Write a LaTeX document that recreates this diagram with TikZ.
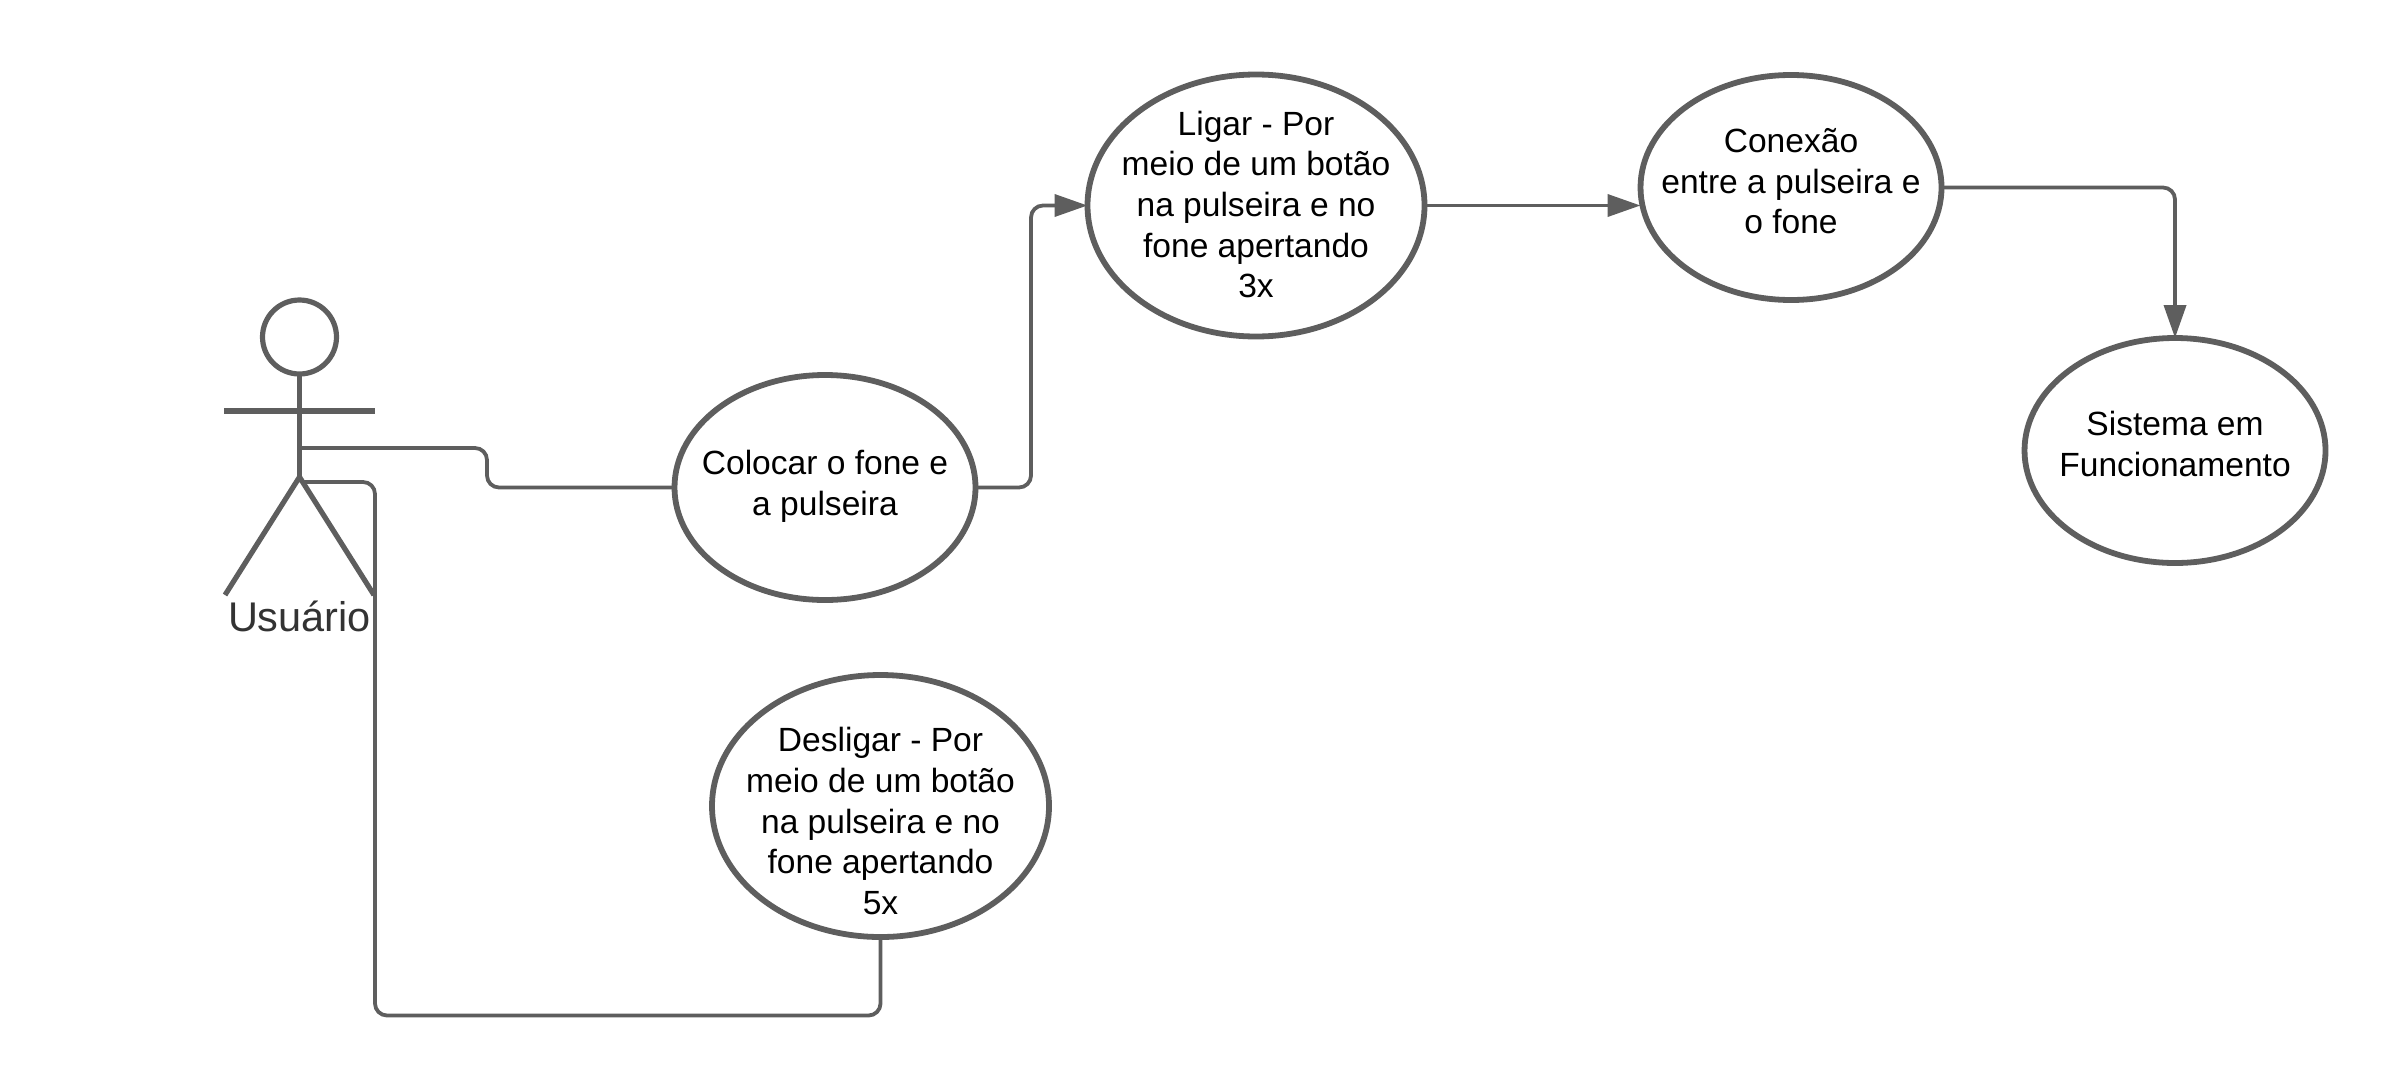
\documentclass[tikz,border=0pt]{standalone}
\usepackage{fontspec}
\setmainfont{Liberation Sans}
\usetikzlibrary{shapes.geometric, arrows.meta, positioning, calc}
\definecolor{traco}{HTML}{5E5E5E}
\definecolor{rotulo}{HTML}{333333}

\begin{document}
\begin{tikzpicture}[>={Triangle[length=.33cm,width=.22cm]}, font=\fontsize{9.55}{11.55}\selectfont,
    caso/.style={draw=traco, line width=.058cm, ellipse, inner sep=0pt, outer sep=0pt},
    casop/.style={caso, minimum width=3.01cm, minimum height=2.25cm},
    casog/.style={caso, minimum width=3.37cm, minimum height=2.62cm},
    texto/.style={align=center, inner sep=0pt},
    ator/.style={draw=traco, line width=.052cm},
    ligacao/.style={draw=traco, line width=.038cm, rounded corners=.12cm}]
        \useasboundingbox (0,0) rectangle (24,-10.91);

        \node [casop, label={[texto, yshift=.01cm]center:Colocar o fone e\\a pulseira}] (colocar) at (8.25,-4.875) {};
        \node [casog, right=1.12cm of colocar, yshift=2.82cm, label={[texto, yshift=.01cm]center:Ligar - Por\\meio de um botão\\na pulseira e no\\fone apertando\\3x}] (ligar) {};
        \node [casop, right=2.16cm of ligar, yshift=.18cm, label={[texto, yshift=.06cm]center:Conexão\\entre a pulseira e\\o fone}] (conexao) {};
        \node [casop, below=.38cm of conexao, xshift=3.84cm, label={[texto, yshift=.065cm]center:Sistema em\\Funcionamento}] (sistema) {};
        \node [casog, below=.75cm of colocar, xshift=.555cm, label={[texto, yshift=-.15cm]center:Desligar - Por\\meio de um botão\\na pulseira e no\\fone apertando\\5x}] (desligar) {};

        % Boneco do usuario
        \node [ator, circle, minimum size=.74cm, inner sep=0pt, outer sep=0pt] (cabeca) at (2.995,-3.37) {};
        \coordinate (quadril) at (2.995,-4.77);
        \coordinate (bracoe) at (2.24,-4.11);
        \coordinate (bracod) at (3.75,-4.11);
        \coordinate (pernae) at (2.25,-5.95);
        \coordinate (pernad) at (3.74,-5.95);
        \draw [ator] (cabeca.south) -- (quadril);
        \draw [ator] (bracoe) -- (bracod);
        \draw [ator] (pernae) -- (quadril) -- (pernad);
        \node [text=rotulo, font=\fontsize{11.8}{13}\selectfont] (usuario) at (2.995,-6.16) {Usuário};

        \coordinate (saida1) at (3.01,-4.48);
        \coordinate (saida2) at (3.01,-4.82);

        \draw [ligacao] (saida1) -- (4.87,-4.48) -- (4.87,-4.875) -- (colocar.west);
        \draw [ligacao] (saida2) -- (3.75,-4.82) -- (3.75,-10.155) -- (desligar.south |- 0,-10.155) -- (desligar.south);

        \draw [ligacao, ->] (colocar.east) -- (10.31,-4.875) -- (10.31,-2.055) -- (ligar.west);
        \draw [ligacao, ->] (ligar.east) -- (ligar.east -| conexao.west);
        \draw [ligacao, ->] (conexao.east) -| (sistema.north);
    \end{tikzpicture}
\end{document}
